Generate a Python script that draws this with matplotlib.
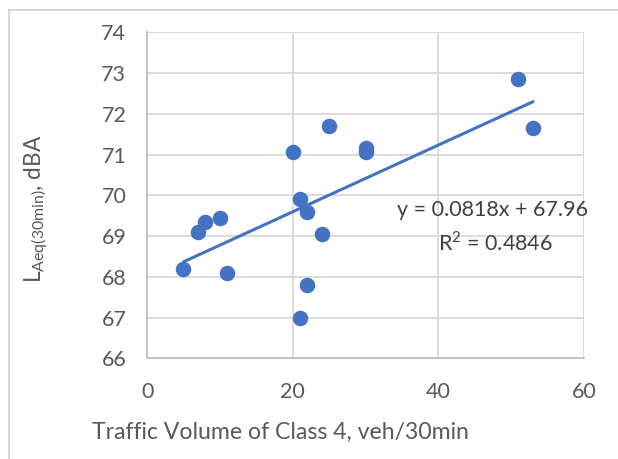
import matplotlib
matplotlib.use("Agg")
import matplotlib.pyplot as plt
import numpy as np
from matplotlib.lines import Line2D

# Data
traffic_class4 = [5, 7, 8, 10, 11, 20, 21, 21, 22, 22, 24, 25, 30, 30, 51, 53]
laeq = [68.2, 69.1, 69.35, 69.45, 68.1, 71.07, 69.9, 67.0, 69.6, 67.8, 69.05, 71.7, 71.15, 71.05, 72.85, 71.65]
slope, intercept = 0.0818, 67.96
r2 = 0.4846
x_ticks = [0, 20, 40, 60]
y_ticks = [66, 67, 68, 69, 70, 71, 72, 73, 74]

plt.rcParams['font.family'] = ['Lato', 'DejaVu Sans']

fig = plt.figure(figsize=(6.18, 4.59), dpi=100)
ax = fig.add_axes([0.238, 0.219, 0.707, 0.711])

blue = '#4472C4'
ax.scatter(traffic_class4, laeq, s=125, color=blue, zorder=3, linewidths=0)
xl = np.array([min(traffic_class4), max(traffic_class4)])
ax.plot(xl, slope * xl + intercept, color=blue, lw=2.2, zorder=2, solid_capstyle='round')

ax.set_xlim(0, 60)
ax.set_ylim(66, 74)
ax.set_xticks(x_ticks)
ax.set_yticks(y_ticks)
ax.grid(True, color='#D9D9D9', lw=1.3)
ax.set_axisbelow(True)
for s in ['top', 'right']:
    ax.spines[s].set_visible(False)
for s in ['left', 'bottom']:
    ax.spines[s].set_color('#BFBFBF')
    ax.spines[s].set_linewidth(1.3)
ax.tick_params(length=0, labelsize=15.5, colors='#595959')
ax.tick_params(axis='y', pad=15)
ax.tick_params(axis='x', pad=17)

fig.text(0.453, 0.057, 'Traffic Volume of Class 4, veh/30min', fontsize=16.6, color='#595959',
         ha='center', va='center')
fig.text(0.06, 0.545, r'L$_{\mathregular{Aeq(30min)}}$, dBA', rotation=90, fontsize=16.3,
         color='#595959', ha='center', va='center')

ax.text(47.5, 69.64, 'y = 0.0818x + 67.96', fontsize=15.5, color='#404040', ha='center', va='center')
ax.text(47.8, 68.85, 'R$^{\\mathregular{2}}$ = 0.4846', fontsize=15.5, color='#404040', ha='center', va='center')

# figure border (partial)
fig.add_artist(Line2D([9/618, 1], [1 - 10/459, 1 - 10/459], transform=fig.transFigure, color='#D0D0D0', lw=1.2))
fig.add_artist(Line2D([9/618, 9/618], [0, 1 - 10/459], transform=fig.transFigure, color='#D0D0D0', lw=1.2))

fig.savefig('out.png', dpi=100)
